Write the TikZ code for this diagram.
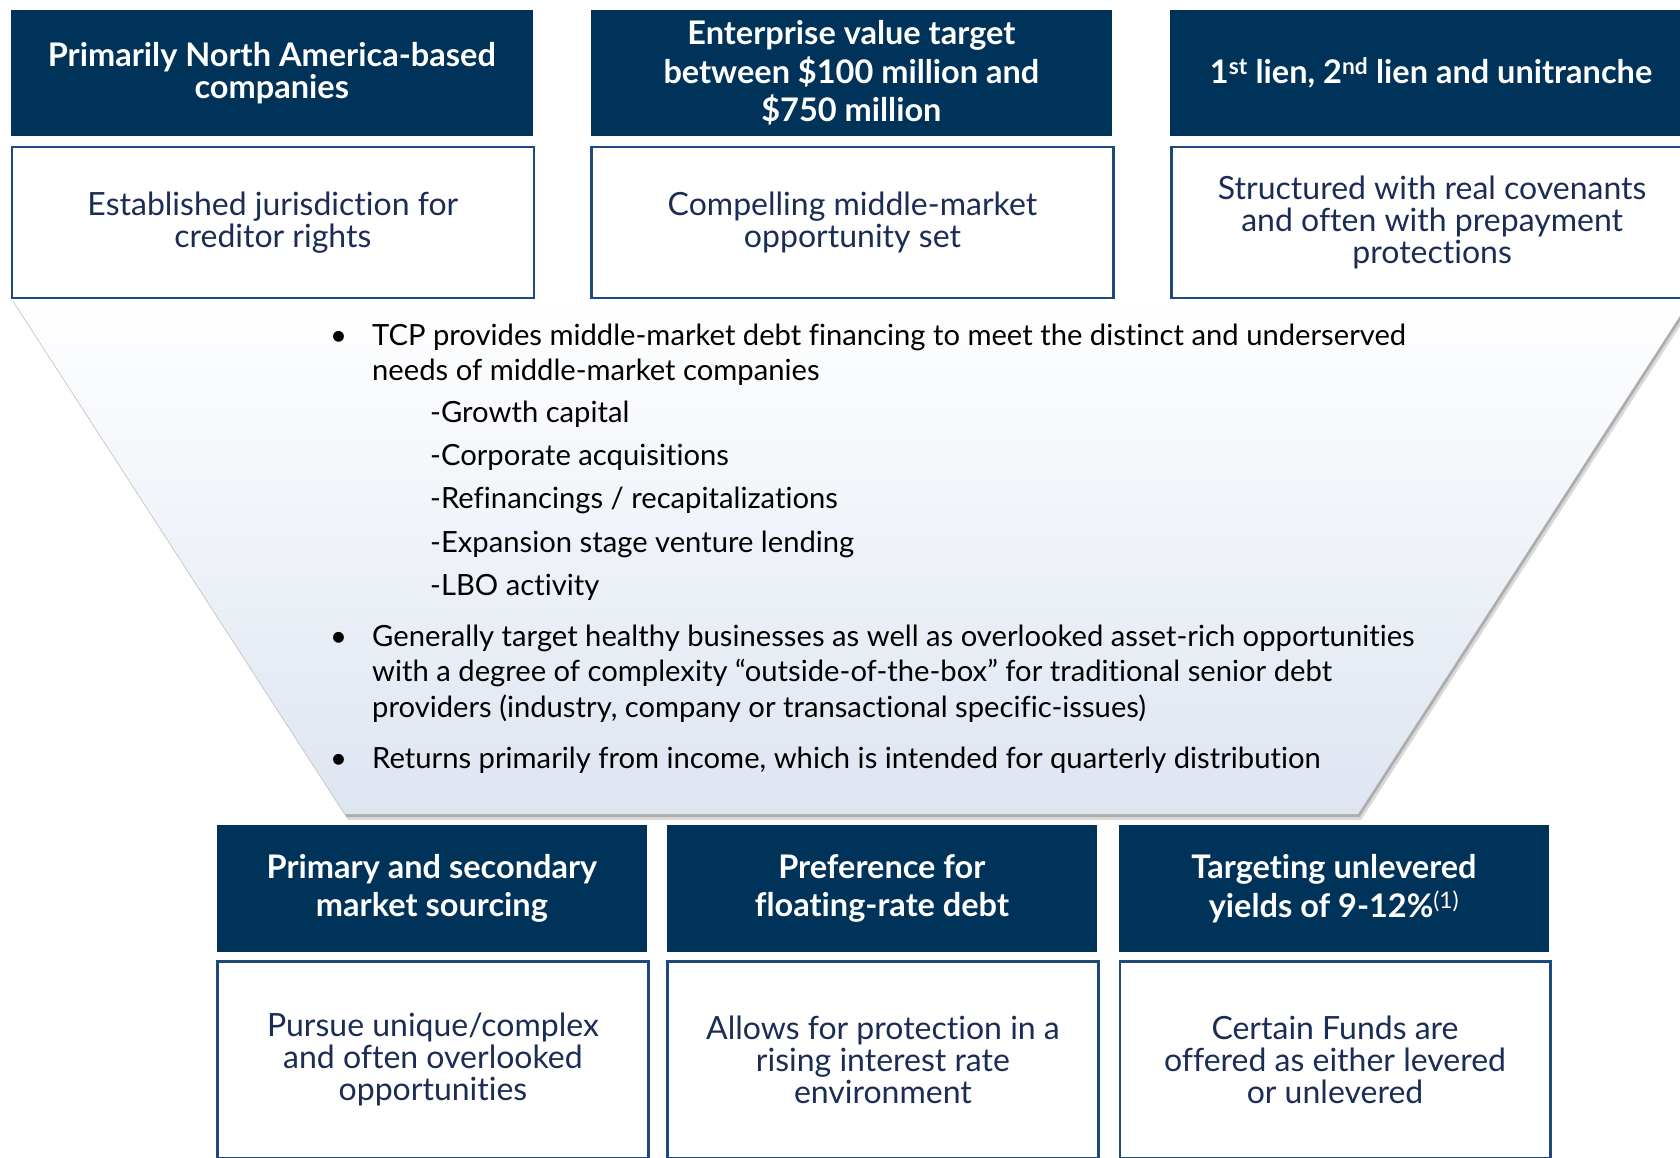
\documentclass[tikz,border=0pt]{standalone}
\usepackage{fontspec}
\setmainfont{Lato}[Ligatures=NoCommon]
\definecolor{navy}{RGB}{0,51,89}
\definecolor{boxline}{RGB}{31,73,125}
\definecolor{boxtext}{RGB}{27,45,85}
\definecolor{funnelbot}{RGB}{221,229,241}
\definecolor{funnelmid}{RGB}{242,242,242}
\begin{document}
\begin{tikzpicture}[x=1pt,y=-1pt,
  headbox/.style={fill=navy, text=white, align=center, inner sep=0pt, anchor=north west,
    font=\fontsize{32.5}{32}\selectfont\bfseries},
  widehead/.style={font=\fontsize{32.5}{38.6}\selectfont\bfseries},
  notebox/.style={draw=boxline, line width=2.5pt, fill=white, text=boxtext, align=center,
    inner sep=0pt, anchor=north west, font=\fontsize{32}{32}\selectfont},
  topw/.style={minimum width=521.8pt},
  botw/.style={minimum width=430.6pt},
  bodyline/.style={anchor=base west, inner sep=0pt, text=black, font=\fontsize{29.2}{32}\selectfont},
  dot/.style={anchor=base, inner sep=0pt, text=black, font=\fontsize{29.2}{32}\selectfont},
]
\clip (0,0) rectangle (1680,1157);
\fill[white] (0,0) rectangle (1680,1157);

% funnel with soft drop shadow
\fill[black!15] (13.7,303) -- (348,820) -- (1361,820) -- (1695,303) -- cycle;
\fill[black!32] (12.2,300) -- (346.5,817) -- (1359.5,817) -- (1693.5,300) -- cycle;
\shade[top color=white, middle color=funnelmid, bottom color=funnelbot]
  (10.7,297) -- (345,814) -- (1358,814) -- (1692,297) -- cycle;

% top row
\node[headbox, topw, minimum height=126.4pt] (h1) at (10.7,9.6) {Primarily North America-based\\companies};
\node[headbox, widehead, topw, minimum height=126.4pt] (h2) at (590.3,9.6)
  {Enterprise value target\\between \$100 million and\\\$750 million};
\node[headbox, topw, minimum height=126.4pt] (h3) at (1170,9.6)
  {1\textsuperscript{st} lien, 2\textsuperscript{nd} lien and unitranche};
\node[notebox, topw, minimum height=151pt] (n1) at (10.7,145.7) {Established jurisdiction for\\creditor rights};
\node[notebox, topw, minimum height=151pt] (n2) at (590.3,145.7) {Compelling middle-market\\opportunity set};
\node[notebox, topw, minimum height=151pt] (n3) at (1170,145.7)
  {Structured with real covenants\\and often with prepayment\\protections};

% funnel text
\node[dot] (b1) at (338.6,345) {\textbullet};
\node[bodyline] (t1) at (372,345) {TCP provides middle-market debt financing to meet the distinct and underserved};
\node[bodyline] (t2) at (372,380) {needs of middle-market companies};
\node[bodyline] (s1) at (430,422) {-Growth capital};
\node[bodyline] (s2) at (430,465) {-Corporate acquisitions};
\node[bodyline] (s3) at (430,508.5) {-Refinancings / recapitalizations};
\node[bodyline] (s4) at (430,552) {-Expansion stage venture lending};
\node[bodyline] (s5) at (430,595) {-LBO activity};
\node[dot] (b2) at (338.6,646) {\textbullet};
\node[bodyline] (g1) at (372,646) {Generally target healthy businesses as well as overlooked asset-rich opportunities};
\node[bodyline] (g2) at (372,681) {with a degree of complexity “outside-of-the-box” for traditional senior debt};
\node[bodyline] (g3) at (372,717) {providers (industry, company or transactional specific-issues)};
\node[dot] (b3) at (338.6,768) {\textbullet};
\node[bodyline] (r1) at (372,768) {Returns primarily from income, which is intended for quarterly distribution};

% bottom row
\node[headbox, widehead, botw, minimum height=126.5pt] (h4) at (216.4,825)
  {Primary and secondary\\market sourcing};
\node[headbox, widehead, botw, minimum height=126.5pt] (h5) at (666.4,825)
  {Preference for\\floating-rate debt};
\node[headbox, widehead, botw, minimum height=126.5pt] (h6) at (1118.5,825)
  {Targeting unlevered\\yields of 9-12\%\textsuperscript{\normalfont(1)}};
\node[notebox, botw, minimum height=197pt] (n4) at (216.4,960)
  {Pursue unique/complex\\and often overlooked\\opportunities};
\node[notebox, botw, minimum height=197pt] (n5) at (666.4,960)
  {Allows for protection in a\\rising interest rate\\environment};
\node[notebox, botw, minimum height=197pt] (n6) at (1118.5,960)
  {Certain Funds are\\offered as either levered\\or unlevered};
\end{tikzpicture}
\end{document}
